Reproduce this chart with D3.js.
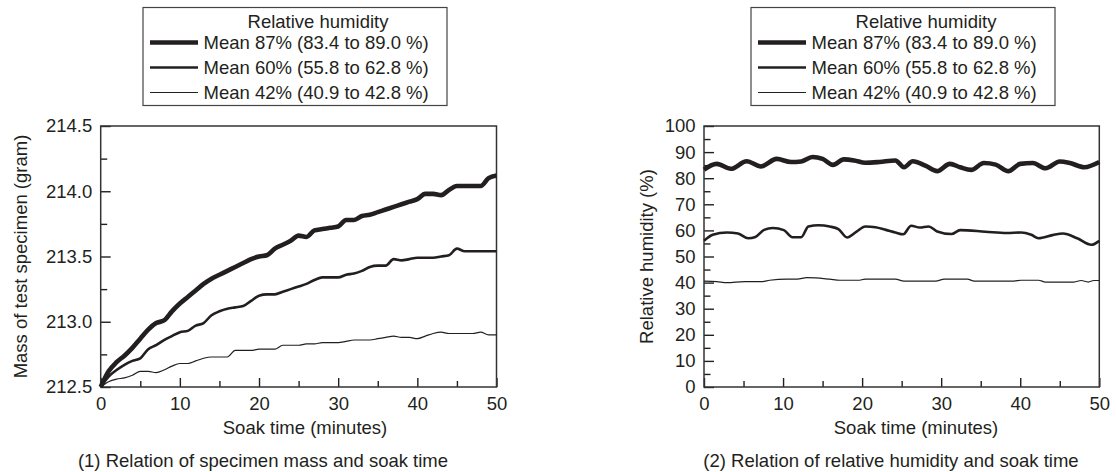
<!DOCTYPE html>
<html>
<head>
<meta charset="utf-8">
<script src="https://cdn.jsdelivr.net/npm/d3@7"></script>
<style>
    body { margin: 0; background: #fff; }
    svg text { font-family: "Liberation Sans", Arial, Helvetica, sans-serif; fill: #231f20; }
</style>
</head>
<body>
<div id="chart"></div>
<script>
// ---- data ----
const massTime = d3.range(0, 51); // minutes, one reading per minute

const mass87 = [212.50, 212.62, 212.69, 212.74, 212.80, 212.87, 212.94, 212.99, 213.01, 213.08,
    213.14, 213.19, 213.24, 213.29, 213.33, 213.36, 213.39, 213.42, 213.45, 213.48,
    213.50, 213.51, 213.56, 213.59, 213.62, 213.66, 213.65, 213.70, 213.71, 213.72,
    213.73, 213.78, 213.78, 213.81, 213.82, 213.84, 213.86, 213.88, 213.90, 213.92,
    213.94, 213.98, 213.98, 213.97, 214.01, 214.04, 214.04, 214.04, 214.04, 214.10, 214.12];

const mass60 = [212.50, 212.58, 212.63, 212.67, 212.70, 212.72, 212.79, 212.82, 212.86, 212.89,
    212.92, 212.93, 212.97, 212.99, 213.05, 213.08, 213.10, 213.11, 213.12, 213.16,
    213.20, 213.21, 213.21, 213.23, 213.25, 213.27, 213.29, 213.32, 213.34, 213.34,
    213.34, 213.36, 213.37, 213.39, 213.42, 213.43, 213.43, 213.48, 213.47, 213.48,
    213.49, 213.49, 213.49, 213.50, 213.51, 213.56, 213.54, 213.54, 213.54, 213.54, 213.54];

const mass42 = [212.50, 212.54, 212.56, 212.57, 212.59, 212.62, 212.62, 212.61, 212.63, 212.66,
    212.68, 212.68, 212.70, 212.72, 212.73, 212.73, 212.73, 212.78, 212.78, 212.78,
    212.79, 212.79, 212.79, 212.82, 212.82, 212.82, 212.83, 212.83, 212.84, 212.84,
    212.84, 212.85, 212.86, 212.86, 212.86, 212.87, 212.88, 212.89, 212.88, 212.88,
    212.87, 212.89, 212.91, 212.92, 212.91, 212.91, 212.91, 212.91, 212.92, 212.90, 212.90];

const rhTime87 = [0, 1.6, 3.4, 5.4, 7.2, 9.2, 11, 12.3, 13.7, 15, 16.3, 17.7, 19, 20.4, 22.2, 24.2,
    25.3, 26.4, 28, 29.5, 31.1, 32.4, 33.8, 35.4, 36.9, 38.5, 40, 41.6, 43.2, 45, 46.3, 48.1, 50];
const rh87 = [83.3, 85.5, 83.6, 86.5, 84.5, 87.4, 86.2, 86.4, 88.1, 87.4, 85.1, 87.2, 86.8, 85.9, 86.2, 86.8,
    84.2, 86.5, 84.8, 82.7, 85.5, 84.2, 83.2, 85.8, 85.2, 82.7, 85.5, 85.8, 83.8, 86.4, 85.8, 84.2, 86.2];

const rhTime60 = [0, 1.1, 2.9, 4.3, 5.6, 6.5, 7.6, 8.7, 10.1, 11.2, 12.3, 13.2, 14.5, 15.9, 17, 18.1,
    19.3, 20.4, 21.7, 23, 24.2, 25.2, 26.2, 27.3, 28.4, 29.5, 31.3, 32.4, 35.6, 38.3, 40.1, 41.4,
    42.3, 44.1, 45.4, 47.2, 49, 50];
const rh60 = [56, 58.3, 59.2, 58.8, 57, 57.5, 60.2, 60.9, 60.1, 57.4, 57.4, 61.5, 62, 61.5, 60.5, 57.3,
    59.5, 61.5, 61.2, 60.2, 59.2, 58.5, 61.8, 61.1, 61.5, 59.6, 58.6, 60.1, 59.5, 59, 59.2, 58.3,
    57, 58.2, 58.8, 57, 54.5, 56];

const rhTime42 = [0, 1.6, 2.9, 5.1, 7.4, 8.3, 10.5, 11.8, 13, 14.1, 15.9, 17.2, 19.5, 20.4, 24.2, 25.3,
    29.3, 30.4, 33.3, 34.2, 39.2, 40.1, 42.3, 43.2, 46.8, 47.7, 48.6, 49.3, 50];
const rh42 = [40.6, 40.4, 40.0, 40.4, 40.4, 40.9, 41.3, 41.3, 41.9, 41.8, 41.3, 40.9, 40.9, 41.3, 41.3, 40.6,
    40.6, 41.3, 41.3, 40.6, 40.6, 40.9, 40.9, 40.2, 40.2, 40.8, 40.2, 40.8, 40.8];

const legendTitle = "Relative humidity";
const legendLabels = ["Mean 87% (83.4 to 89.0 %)", "Mean 60% (55.8 to 62.8 %)", "Mean 42% (40.9 to 42.8 %)"];
const xTicks = [0, 10, 20, 30, 40, 50];
const massTicks = [212.5, 213.0, 213.5, 214.0, 214.5];
const rhTicks = d3.range(0, 101, 10);

// ---- styling ----
const ink = "#231f20";
const widths = [4.6, 2.6, 1.2];
const fontSize = 18.5;

const svg = d3.select("#chart")
    .append("svg")
    .attr("width", 1116)
    .attr("height", 472);

function legend(left) {
    const g = svg.append("g").attr("transform", `translate(${left},7.5)`);
    g.append("rect")
        .attr("width", 304).attr("height", 98)
        .attr("fill", "none").attr("stroke", "#444").attr("stroke-width", 1.2);
    g.append("text")
        .attr("x", 175).attr("y", 13.5)
        .attr("text-anchor", "middle").attr("dominant-baseline", "central")
        .attr("font-size", fontSize)
        .text(legendTitle);
    legendLabels.forEach((label, i) => {
        const yy = 35 + i * 25;
        g.append("line")
            .attr("x1", 7).attr("x2", 55).attr("y1", yy).attr("y2", yy)
            .attr("stroke", ink).attr("stroke-width", widths[i]);
        g.append("text")
            .attr("x", 60.5).attr("y", yy)
            .attr("dominant-baseline", "central")
            .attr("font-size", fontSize)
            .text(label);
    });
}

function panel(opt) {
    const { left, right, top, bottom } = opt;
    const x = d3.scaleLinear().domain([0, 50]).range([left, right]);
    const y = d3.scaleLinear().domain(opt.yDomain).range([bottom, top]);

    // minor ticks first, then major ticks with labels
    svg.append("g")
        .attr("transform", `translate(0,${bottom})`)
        .call(d3.axisBottom(x).tickValues(d3.range(5, 50, 10)).tickSize(-6).tickSizeOuter(0).tickFormat(""));
    svg.append("g")
        .attr("transform", `translate(0,${bottom})`)
        .call(d3.axisBottom(x).tickValues(xTicks).tickSize(-9).tickSizeOuter(0).tickPadding(10));
    svg.append("g")
        .attr("transform", `translate(${left},0)`)
        .call(d3.axisLeft(y).tickValues(opt.yMinor).tickSize(-6.5).tickSizeOuter(0).tickFormat(""));
    svg.append("g")
        .attr("transform", `translate(${left},0)`)
        .call(d3.axisLeft(y).tickValues(opt.yTicks).tickSize(-10).tickSizeOuter(0)
            .tickPadding(8.5).tickFormat(opt.yFormat));

    svg.selectAll(".tick line").attr("stroke", ink).attr("stroke-width", 1.4);
    svg.selectAll(".domain").remove();
    svg.selectAll(".tick text").attr("font-size", fontSize).attr("fill", ink)
        .style("font-family", "'Liberation Sans', Arial, sans-serif");

    // frame
    svg.append("rect")
        .attr("x", left).attr("y", top)
        .attr("width", right - left).attr("height", bottom - top)
        .attr("fill", "none").attr("stroke", "#333").attr("stroke-width", 1.5);

    const line = d3.line()
        .x((d) => x(d[0]))
        .y((d) => y(d[1]))
        .curve(d3.curveMonotoneX);

    opt.series.forEach((s, i) => {
        svg.append("path")
            .datum(d3.zip(s.t, s.v))
            .attr("fill", "none")
            .attr("stroke", ink)
            .attr("stroke-width", widths[i])
            .attr("stroke-linejoin", "round")
            .attr("d", line);
    });

    svg.append("text")
        .attr("x", opt.xTitleX).attr("y", 427)
        .attr("text-anchor", "middle").attr("dominant-baseline", "central")
        .attr("font-size", fontSize)
        .text("Soak time (minutes)");

    svg.append("text")
        .attr("transform", `translate(${opt.yTitleX},${(top + bottom) / 2}) rotate(-90)`)
        .attr("text-anchor", "middle").attr("dominant-baseline", "central")
        .attr("font-size", fontSize)
        .text(opt.yTitle);

    svg.append("text")
        .attr("x", opt.captionX).attr("y", 460)
        .attr("text-anchor", "middle").attr("dominant-baseline", "central")
        .attr("font-size", fontSize)
        .text(opt.caption);
}

legend(143);
legend(751);

panel({
    left: 100.7, right: 496.5, top: 126, bottom: 387,
    yDomain: [212.5, 214.5],
    yTicks: massTicks,
    yMinor: [212.75, 213.25, 213.75, 214.25],
    yFormat: d3.format(".1f"),
    yTitle: "Mass of test specimen (gram)",
    yTitleX: 20,
    xTitleX: 305,
    captionX: 263,
    caption: "(1) Relation of specimen mass and soak time",
    series: [
        { t: massTime, v: mass87 },
        { t: massTime, v: mass60 },
        { t: massTime, v: mass42 },
    ],
});

panel({
    left: 704, right: 1099.3, top: 126, bottom: 387,
    yDomain: [0, 100],
    yTicks: rhTicks,
    yMinor: d3.range(5, 100, 10),
    yFormat: d3.format("d"),
    yTitle: "Relative humidity (%)",
    yTitleX: 646,
    xTitleX: 916,
    captionX: 891,
    caption: "(2) Relation of relative humidity and soak time",
    series: [
        { t: rhTime87, v: rh87 },
        { t: rhTime60, v: rh60 },
        { t: rhTime42, v: rh42 },
    ],
});
</script>
</body>
</html>
